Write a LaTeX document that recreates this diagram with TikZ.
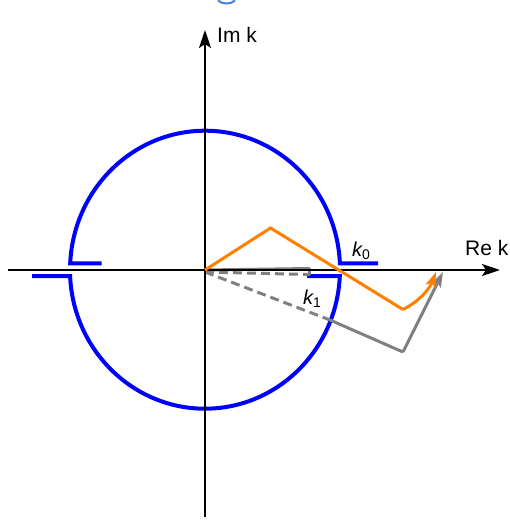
\documentclass[tikz,border=0pt]{standalone}
\usepackage{fontspec}
\setmainfont{Liberation Sans}
\usetikzlibrary{arrows.meta}
\definecolor{contourblue}{RGB}{0,0,255}
\definecolor{pathorange}{RGB}{255,128,0}
\definecolor{pathgray}{RGB}{128,128,128}
\definecolor{capblue}{RGB}{70,130,220}

\begin{document}
\begin{tikzpicture}[x=1pt,y=-1pt,
    axis/.style={line width=2.3pt,-{Stealth[length=18pt,width=12pt,inset=4pt]}},
    contour/.style={contourblue,line width=4pt},
    grayline/.style={pathgray,line width=3pt},
    orangeline/.style={pathorange,line width=3pt},
    tip/.style={-{Stealth[length=15pt,width=10pt,inset=3pt]}},
    axlabel/.style={inner sep=0pt,font=\fontsize{21}{25}\selectfont},
    klabel/.style={inner sep=0pt,font=\fontsize{20}{24}\selectfont\itshape}]
      \useasboundingbox (0,0) rectangle (510,520);
      \coordinate (O) at (205,270);
      \coordinate (xl) at (8,270);
      \coordinate (xr) at (500,270);
      \coordinate (yb) at (205,517);
      \coordinate (yt) at (205,30);
      % cut-off glyph at the top
      \draw[capblue,line width=2pt] (218,0.5) .. controls (222,4.5) and (231,4.5) .. (235,0.5);
      % contour: two half circles with the hooks
      \draw[contour] (378,263.3) -- (339.9,263.3)
        arc[start angle=-2.64,end angle=-177.36,x radius=135,y radius=139] -- (101.5,263.3);
      \draw[contour] (32,276.1) -- (70.1,276.1)
        arc[start angle=177.36,end angle=2.64,x radius=135,y radius=139] -- (307,276.1);
      % gray path
      \coordinate (g0) at (309,268.5);
      \coordinate (g1) at (309,274.5);
      \coordinate (gc) at (330,320);
      \coordinate (gk) at (403,352);
      \coordinate (gend) at (443,272);
      \draw[grayline] (O) -- (g0);
      \draw[grayline,dash pattern=on 9pt off 5pt] (205,272) -- (g1);
      \draw[grayline,line cap=round] (g0) -- (g1);
      \draw[grayline,dash pattern=on 9pt off 5pt] (205,272) -- (gc);
      \draw[grayline,line join=miter] (gc) -- (gk);
      \draw[grayline,tip] (gk) -- (gend);
      % axes
      \draw[axis] (xl) -- (xr);
      \draw[axis] (yb) -- (yt);
      % orange path
      \coordinate (o1) at (270.5,228);
      \coordinate (o2) at (403,309.5);
      \coordinate (oend) at (436,272);
      \draw[orangeline] (O) -- (o1) -- (o2);
      \draw[orangeline,tip] (o2) .. controls (418,302) and (429,290) .. (oend);
      % labels
      \node[axlabel,anchor=base west] (im) at (217,42) {Im k};
      \node[axlabel,anchor=base west] (re) at (465,255) {Re k};
      \node[klabel,anchor=base west] (k0) at (352,256) {k\textsubscript{\upshape 0}};
      \node[klabel,anchor=base west] (k1) at (303,304) {k\textsubscript{\upshape 1}};
    \end{tikzpicture}
\end{document}
